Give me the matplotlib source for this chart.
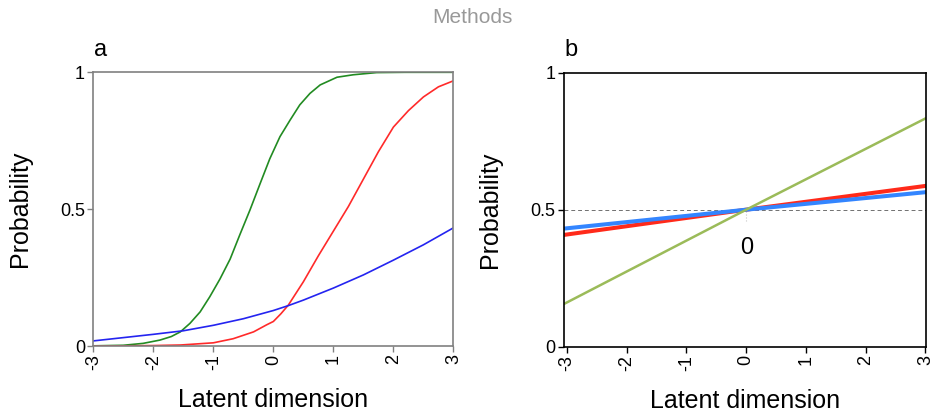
import matplotlib.pyplot as plt

plt.rcParams['font.family'] = ['Liberation Sans', 'DejaVu Sans']

# panel a: item curves
xg = [-3, -2.5, -2.17, -1.89, -1.7, -1.55, -1.39, -1.22, -1.06, -0.89, -0.72, -0.56,
      -0.39, -0.22, -0.06, 0.11, 0.28, 0.44, 0.61, 0.78, 1.06, 1.33, 1.72, 2.2, 3]
green_a = [0.001, 0.003, 0.01, 0.022, 0.035, 0.052, 0.083, 0.125, 0.18, 0.245, 0.318, 0.406,
           0.497, 0.594, 0.684, 0.765, 0.826, 0.881, 0.923, 0.954, 0.982, 0.991, 0.999, 1.0, 1.0]
xr = [-3, -2, -1.55, -1, -0.67, -0.33, -0.11, 0, 0.125, 0.25, 0.5, 0.75, 1, 1.25, 1.5,
      1.75, 2, 2.25, 2.5, 2.75, 3]
red_a = [0.0, 0.002, 0.004, 0.012, 0.027, 0.052, 0.078, 0.09, 0.118, 0.15, 0.235, 0.33, 0.42,
         0.51, 0.61, 0.71, 0.80, 0.86, 0.91, 0.947, 0.969]
xbl = [-3, -2.5, -2, -1.5, -1, -0.5, 0, 0.25, 0.5, 0.75, 1, 1.5, 2, 2.5, 3]
blue_a = [0.019, 0.031, 0.043, 0.056, 0.076, 0.100, 0.13, 0.148, 0.168, 0.19, 0.212, 0.26,
          0.314, 0.37, 0.432]

# panel b: nearly straight lines through (0, 0.5)
xb = [-3.05, 0, 3.01]
green_b = [0.156, 0.5, 0.834]
red_b = [0.408, 0.5, 0.587]
blue_b = [0.431, 0.5, 0.564]

xticks = [-3, -2, -1, 0, 1, 2, 3]
yticks = [0, 0.5, 1]
yticklabels = ['0', '0.5', '1']

fig = plt.figure(figsize=(9.33, 4.17), dpi=100)
ax1 = fig.add_axes([0.1, 0.170, 0.386, 0.6566])
ax2 = fig.add_axes([0.6045, 0.1686, 0.388, 0.6571])

ax1.plot(xg, green_a, color='#228B22', lw=1.2)
ax1.plot(xr, red_a, color='#FF2A2A', lw=1.2)
ax1.plot(xbl, blue_a, color='#2424F0', lw=1.2)
ax1.set_xlim(-3, 3)

ax2.axhline(0.5, color='#707070', lw=0.7, ls=(0, (4, 3)))
ax2.plot([0, 0], [0.46, 0.5], color='#C8C8C8', lw=0.8, ls=':')
ax2.plot(xb, red_b, color='#FF2A1A', lw=2.9)
ax2.plot(xb, blue_b, color='#3385FF', lw=2.9)
ax2.plot(xb, green_b, color='#9BBB59', lw=1.8)
ax2.text(0, 0.36, '0', ha='center', va='center', fontsize=17)
ax2.set_xlim(-3.05, 3.01)

for ax, spc in [(ax1, '#808080'), (ax2, 'black')]:
    ax.set_ylim(0, 1)
    ax.set_xticks(xticks)
    ax.set_xticklabels([str(t) for t in xticks], rotation=90, fontsize=13)
    ax.set_yticks(yticks)
    ax.set_yticklabels(yticklabels, fontsize=13)
    ax.tick_params(direction='out', length=4, width=1, color=spc, pad=2)
    for s in ax.spines.values():
        s.set_color(spc)
        s.set_linewidth(1.2)
    ax.set_xlabel('Latent dimension', fontsize=18)
    ax.xaxis.set_label_coords(0.5, -0.153)
    ax.set_ylabel('Probability', fontsize=18)
    ax.yaxis.set_label_coords(-0.17, 0.5)

fig.text(0.101, 0.865, 'a', fontsize=17)
fig.text(0.6055, 0.865, 'b', fontsize=17)
fig.text(0.506, 0.958, 'Methods', ha='center', va='center', fontsize=15, color='#999999')

fig.savefig('out.png', dpi=100)
